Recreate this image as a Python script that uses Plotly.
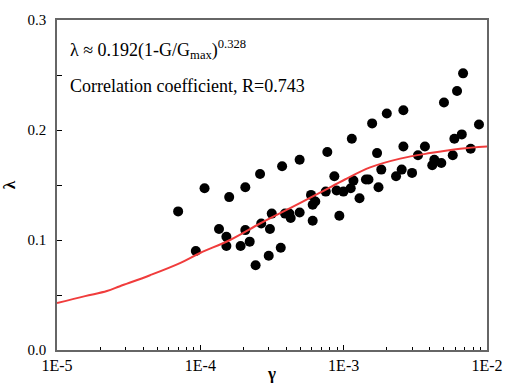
import plotly.graph_objects as go

# scatter data (gamma, lambda)
gamma_pts = [7.0e-5, 1.07e-4, 9.3e-5, 1.35e-4, 1.52e-4, 1.52e-4, 1.59e-4, 1.91e-4, 2.06e-4, 2.06e-4,
             2.21e-4, 2.43e-4, 2.61e-4, 2.66e-4, 3.0e-4, 3.06e-4, 3.15e-4, 3.64e-4, 3.72e-4, 3.90e-4,
             4.18e-4, 4.27e-4, 4.93e-4, 4.93e-4, 5.92e-4, 6.08e-4, 6.34e-4, 6.08e-4, 7.50e-4, 7.69e-4,
             8.61e-4, 8.93e-4, 9.33e-4, 9.96e-4, 1.12e-3, 1.17e-3, 1.29e-3, 1.14e-3, 1.43e-3, 1.49e-3,
             1.58e-3, 1.71e-3, 1.75e-3, 1.83e-3, 2.00e-3, 2.32e-3, 2.54e-3, 2.61e-3, 2.61e-3, 3.0e-3,
             3.30e-3, 3.69e-3, 4.15e-3, 4.29e-3, 4.80e-3, 5.01e-3, 5.77e-3, 5.92e-3, 6.18e-3, 6.67e-3,
             6.81e-3, 7.69e-3, 8.79e-3]
lambda_pts = [0.126, 0.147, 0.090, 0.110, 0.103, 0.0945, 0.139, 0.0945, 0.148, 0.109,
              0.0985, 0.077, 0.160, 0.115, 0.0857, 0.110, 0.124, 0.093, 0.167, 0.124,
              0.124, 0.120, 0.125, 0.173, 0.141, 0.132, 0.135, 0.1175, 0.144, 0.180,
              0.158, 0.145, 0.122, 0.144, 0.147, 0.154, 0.138, 0.192, 0.155, 0.155,
              0.206, 0.179, 0.148, 0.164, 0.215, 0.158, 0.164, 0.218, 0.185, 0.161,
              0.177, 0.185, 0.168, 0.173, 0.170, 0.225, 0.177, 0.192, 0.2355, 0.196,
              0.2515, 0.183, 0.205]

# fitted curve
gamma_fit = [1.0e-5, 1.57e-5, 2.23e-5, 2.75e-5, 4.46e-5, 7.21e-5, 9.95e-5, 1.61e-4, 2.61e-4,
             4.23e-4, 6.84e-4, 1.02e-3, 1.53e-3, 2.48e-3, 4.01e-3, 6.49e-3, 1.0e-2]
lambda_fit = [0.0427, 0.049, 0.0536, 0.058, 0.068, 0.079, 0.0882, 0.100, 0.115,
              0.129, 0.143, 0.155, 0.166, 0.174, 0.179, 0.183, 0.185]

x_tickvals = [1e-5, 1e-4, 1e-3, 1e-2]
x_ticktext = ["1E-5", "1E-4", "1E-3", "1E-2"]
y_tickvals = [0.0, 0.1, 0.2, 0.3]
y_ticktext = ["0.0", "0.1", "0.2", "0.3"]

minor_x = [m * 10 ** e for e in (-5, -4, -3) for m in range(2, 10)]

FONT = "Liberation Serif, serif"
AXC = "#666666"

fig = go.Figure()
fig.add_trace(go.Scatter(x=gamma_pts, y=lambda_pts, mode="markers",
                         marker=dict(color="black", size=10, line=dict(width=0)),
                         showlegend=False))
fig.add_trace(go.Scatter(x=gamma_fit, y=lambda_fit, mode="lines",
                         line=dict(color="rgb(240,60,60)", width=2, shape="spline"),
                         showlegend=False))

fig.update_layout(
    width=505, height=383,
    margin=dict(l=57, r=18, t=20, b=33),
    paper_bgcolor="white", plot_bgcolor="white",
    font=dict(family=FONT, size=15, color="black"),
    xaxis=dict(type="log", range=[-5, -2], tickvals=x_tickvals, ticktext=x_ticktext,
               automargin=False,
               showgrid=False, zeroline=False, showline=True, linecolor=AXC, linewidth=1.5,
               mirror=True, ticks="inside", ticklen=5, tickcolor="black", tickwidth=1,
               minor=dict(tickvals=minor_x, ticks="inside", ticklen=3, tickcolor="black", showgrid=False),
               tickfont=dict(family=FONT, size=16),
               title=dict(text="<b>γ</b>", font=dict(family=FONT, size=17), standoff=0)),
    yaxis=dict(range=[0, 0.3], tickvals=y_tickvals, ticktext=y_ticktext,
               automargin=False, ticklabelstandoff=6,
               showgrid=False, zeroline=False, showline=True, linecolor=AXC, linewidth=1.5,
               mirror=True, ticks="inside", ticklen=5, tickcolor="black", tickwidth=1,
               minor=dict(tickvals=[0.05, 0.15, 0.25], ticks="inside", ticklen=5, tickcolor="black", showgrid=False),
               tickfont=dict(family=FONT, size=15),
               title=dict(text="<b>λ</b>", font=dict(family=FONT, size=17), standoff=8)),
)

fig.add_annotation(xref="paper", yref="paper", x=0.026, y=0.912, xanchor="left", yanchor="middle",
                   text="λ ≈ 0.192(1-G/G<sub>max</sub>)<sup>0.328</sup>", showarrow=False,
                   font=dict(family=FONT, size=18, color="black"))
fig.add_annotation(xref="paper", yref="paper", x=0.026, y=0.800, xanchor="left", yanchor="middle",
                   text="Correlation coefficient, R=0.743", showarrow=False,
                   font=dict(family=FONT, size=18, color="black"))

fig.write_html("out.html")
